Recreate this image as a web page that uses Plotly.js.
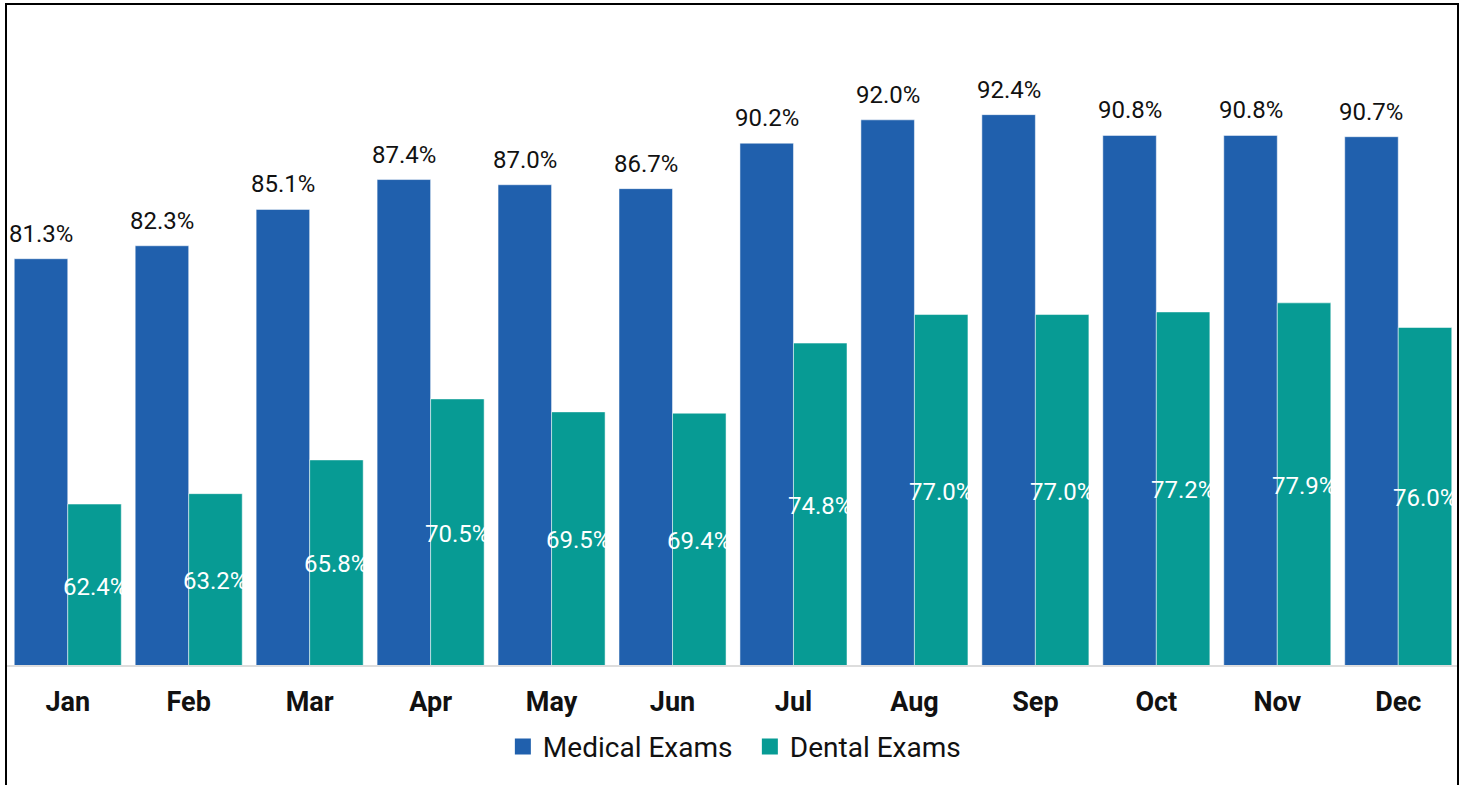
<!DOCTYPE html>
<html>
<head>
<meta charset="utf-8">
<script src="https://cdn.plot.ly/plotly-3.0.1.min.js"></script>
<style>
html,body{margin:0;padding:0;background:#fff;}
#wrap{position:relative;width:1464px;height:785px;overflow:hidden;}
#chart{width:1464px;height:785px;}
#frame{position:absolute;left:5px;top:3px;width:1450px;height:900px;border:2px solid #000;pointer-events:none;box-sizing:content-box;}
</style>
</head>
<body>
<div id="wrap"><div id="chart"></div><div id="frame"></div></div>
<script>
const months = ["Jan","Feb","Mar","Apr","May","Jun","Jul","Aug","Sep","Oct","Nov","Dec"];
const medical = [81.3,82.3,85.1,87.4,87.0,86.7,90.2,92.0,92.4,90.8,90.8,90.7];
const dental  = [62.4,63.2,65.8,70.5,69.5,69.4,74.8,77.0,77.0,77.2,77.9,76.0];
const seriesNames = ["Medical Exams","Dental Exams"];
const colors = ["#2060ad","#079b94"];

const yRange = [50,100];
const bargap = 0.115;
const half = (1 - bargap) / 4;

const traces = [
  {type:"bar", name:seriesNames[0], x:months, y:medical, showlegend:false,
   marker:{color:colors[0], line:{color:"rgba(255,255,255,0.5)", width:1}},
   hoverinfo:"skip"},
  {type:"bar", name:seriesNames[1], x:months, y:dental, showlegend:false,
   marker:{color:colors[1], line:{color:"rgba(255,255,255,0.5)", width:1}},
   hoverinfo:"skip"},
  {type:"scatter", mode:"markers", name:seriesNames[0], x:[null], y:[null],
   marker:{symbol:"square", size:16, color:colors[0]}, hoverinfo:"skip"},
  {type:"scatter", mode:"markers", name:seriesNames[1], x:[null], y:[null],
   marker:{symbol:"square", size:16, color:colors[1]}, hoverinfo:"skip"}
];

const medAnn = medical.map((v,i)=>({
  x:i - half, y:v, xref:"x", yref:"y", text:v.toFixed(1)+"%",
  showarrow:false, yanchor:"bottom", xanchor:"center", yshift:9,
  font:{family:"Roboto", size:24, color:"#111"}
}));
const denAnn = dental.map((v,i)=>({
  x:i + half, y:(yRange[0] + v) / 2, xref:"x", yref:"y", text:v.toFixed(1)+"%",
  showarrow:false, yanchor:"middle", xanchor:"center", yshift:-2,
  font:{family:"Roboto", size:24, color:"#ffffff"}
}));

const layout = {
  width:1464, height:785,
  margin:{l:7, r:5, t:16, b:120},
  paper_bgcolor:"#fff", plot_bgcolor:"#fff",
  barmode:"group", bargap:bargap, bargroupgap:0,
  showlegend:true,
  legend:{orientation:"h", x:0.3415, xanchor:"left", y:-0.126, yanchor:"middle",
          bgcolor:"rgba(0,0,0,0)", entrywidth:202, entrywidthmode:"pixels",
          font:{family:"Roboto", size:28, color:"#111"}, itemwidth:30, traceorder:"normal",
          itemsizing:"trace"},
  xaxis:{type:"category", showline:true, linecolor:"#dddddd", linewidth:2,
         ticks:"", showgrid:false, zeroline:false, ticklabelstandoff:12,
         tickfont:{family:"Roboto", size:27, color:"#111", weight:"bold"}},
  yaxis:{range:yRange, visible:false, showgrid:false, zeroline:false},
  annotations:medAnn.concat(denAnn),
  font:{family:"Roboto"}
};

Plotly.newPlot("chart", traces, layout, {displayModeBar:false, staticPlot:true});
</script>
</body>
</html>
